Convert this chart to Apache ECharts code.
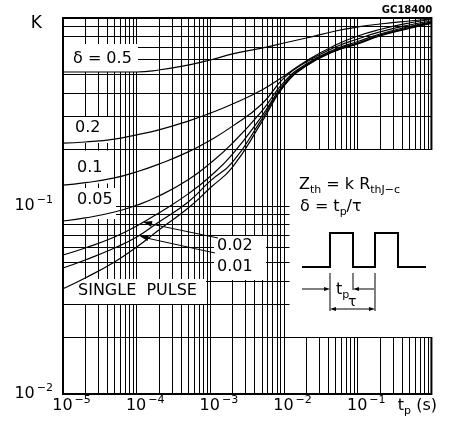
<!DOCTYPE html>
<html>
<head>
<meta charset="utf-8">
<script src="https://cdn.jsdelivr.net/npm/echarts@6/dist/echarts.min.js"></script>
<style>
  html, body { margin: 0; padding: 0; background: #fff; }
  #chart { width: 454px; height: 425px; }
</style>
</head>
<body>
<div id="chart"></div>
<script>
  // pulse width tp (s)
  var tp = [1e-5, 2e-5, 5e-5, 1e-4, 2e-4, 5e-4, 1e-3, 2e-3, 5e-3, 1e-2, 2e-2, 5e-2, 0.1, 0.2, 0.5, 1]
  // K = Zth / RthJ-c for each duty cycle
  var kDelta050 = [0.516, 0.516, 0.516, 0.516, 0.529, 0.562, 0.598, 0.644, 0.692, 0.736, 0.783, 0.853, 0.896, 0.929, 0.964, 0.988]
  var kDelta020 = [0.216, 0.219, 0.227, 0.239, 0.254, 0.283, 0.312, 0.349, 0.414, 0.491, 0.591, 0.718, 0.802, 0.869, 0.941, 0.982]
  var kDelta010 = [0.129, 0.133, 0.141, 0.152, 0.167, 0.194, 0.224, 0.266, 0.349, 0.480, 0.583, 0.701, 0.773, 0.843, 0.918, 0.964]
  var kDelta005 = [0.0832, 0.0864, 0.0929, 0.101, 0.113, 0.138, 0.169, 0.216, 0.320, 0.457, 0.569, 0.684, 0.750, 0.822, 0.901, 0.952]
  var kDelta002 = [0.0549, 0.0598, 0.0684, 0.0783, 0.0918, 0.116, 0.144, 0.189, 0.301, 0.446, 0.562, 0.676, 0.736, 0.812, 0.890, 0.947]
  var kDelta001 = [0.0468, 0.0516, 0.0598, 0.0684, 0.0822, 0.105, 0.136, 0.171, 0.290, 0.440, 0.559, 0.672, 0.732, 0.807, 0.885, 0.941]
  var kSingle = [0.0363, 0.0414, 0.0504, 0.0605, 0.0745, 0.0976, 0.125, 0.161, 0.280, 0.435, 0.555, 0.668, 0.727, 0.802, 0.879, 0.935]

  // minor grid: mantissas 2..9 in every decade
  var gridMantissas = [2, 3, 4, 5, 6, 7, 8, 9]
  var xDecades = [1e-5, 1e-4, 1e-3, 1e-2, 1e-1]
  var yDecades = [0.01, 0.1]

  var FONT = 'DejaVu Sans'
  var chart = echarts.init(document.getElementById('chart'))

  function pairs (ys) {
    return tp.map(function (x, i) { return [x, ys[i]] })
  }

  var gridMarks = []
  xDecades.forEach(function (d) {
    gridMantissas.forEach(function (m) { gridMarks.push({xAxis: m * d}) })
  })
  yDecades.forEach(function (d) {
    gridMantissas.forEach(function (m) { gridMarks.push({yAxis: m * d}) })
  })

  function curve (name, ys) {
    return {
      name: name,
      type: 'line',
      data: pairs(ys),
      smooth: 0.5,
      symbol: 'none',
      z: 10,
      lineStyle: {color: '#000', width: 1.2}
    }
  }

  function arrowHead (tip, tail, len, half) {
    var dx = tip[0] - tail[0]
    var dy = tip[1] - tail[1]
    var l = Math.sqrt(dx * dx + dy * dy)
    var ux = dx / l
    var uy = dy / l
    var bx = tip[0] - ux * len
    var by = tip[1] - uy * len
    return {
      type: 'polygon',
      z: 20,
      silent: true,
      shape: {points: [tip, [bx - uy * half, by + ux * half], [bx + uy * half, by - ux * half]]},
      style: {fill: '#000'}
    }
  }

  function seg (x1, y1, x2, y2, w) {
    return {type: 'line', z: 20, silent: true, shape: {x1: x1, y1: y1, x2: x2, y2: y2}, style: {stroke: '#000', lineWidth: w || 1}}
  }

  function box (x, y, w, h) {
    return {type: 'rect', z: 5, silent: true, shape: {x: x, y: y, width: w, height: h}, style: {fill: '#fff'}}
  }

  function label (x, y, text, size, rich) {
    return {
      type: 'text', z: 20, silent: true, x: x, y: y,
      style: {text: text, fontFamily: FONT, fontSize: size || 16, fill: '#000', align: 'left', verticalAlign: 'middle', rich: rich}
    }
  }

  var subRich = {
    n: {fontFamily: FONT, fontSize: 16, lineHeight: 22, verticalAlign: 'middle'},
    sub: {fontFamily: FONT, fontSize: 11, verticalAlign: 'bottom'}
  }

  var option = {
    animation: false,
    grid: {left: 63, top: 18, width: 376, height: 376, show: true, borderColor: '#000', borderWidth: 2, backgroundColor: '#fff'},
    xAxis: {
      type: 'log',
      logBase: 10,
      min: 1e-5,
      max: 1,
      axisLine: {show: false},
      axisTick: {show: false},
      splitLine: {show: true, lineStyle: {color: '#000', width: 1}},
      axisLabel: {
        margin: 1,
        showMinLabel: true,
        showMaxLabel: true,
        color: '#000',
        formatter: function (v) {
          var e = Math.round(Math.log10(v))
          if (e === 0) return '{t|t}{p|p}{t| (s)}{gap2|}'
          return '{gap|}{b|10}{s|−' + (-e) + '}'
        },
        rich: {
          b: {fontFamily: FONT, fontSize: 16, lineHeight: 22, verticalAlign: 'middle'},
          s: {fontFamily: FONT, fontSize: 11, verticalAlign: 'top', padding: [0, 0, 0, 2]},
          gap: {width: 17},
          gap2: {width: 28},
          t: {fontFamily: FONT, fontSize: 16, lineHeight: 22, verticalAlign: 'middle'},
          p: {fontFamily: FONT, fontSize: 11, verticalAlign: 'bottom'}
        }
      }
    },
    yAxis: {
      type: 'log',
      logBase: 10,
      min: 0.01,
      max: 1,
      axisLine: {show: false},
      axisTick: {show: false},
      splitLine: {show: true, lineStyle: {color: '#000', width: 1}},
      axisLabel: {
        margin: 10,
        showMinLabel: true,
        showMaxLabel: true,
        color: '#000',
        formatter: function (v) {
          var e = Math.round(Math.log10(v))
          if (e === 0) return '{k|K}'
          return '{b|10}{s|−' + (-e) + '}'
        },
        rich: {
          b: {fontFamily: FONT, fontSize: 16, lineHeight: 22, verticalAlign: 'middle'},
          s: {fontFamily: FONT, fontSize: 11, verticalAlign: 'top', padding: [0, 0, 0, 2]},
          k: {fontFamily: FONT, fontSize: 17, padding: [12, 11, 0, 0]}
        }
      }
    },
    series: [
      {
        name: 'grid',
        type: 'line',
        data: [],
        z: 1,
        silent: true,
        markLine: {
          silent: true,
          z: 1,
          precision: 10,
          symbol: ['none', 'none'],
          label: {show: false},
          emphasis: {disabled: true},
          lineStyle: {color: '#000', width: 1, type: 'solid'},
          data: gridMarks
        }
      },
      curve('0.5', kDelta050),
      curve('0.2', kDelta020),
      curve('0.1', kDelta010),
      curve('0.05', kDelta005),
      curve('0.02', kDelta002),
      curve('0.01', kDelta001),
      curve('single pulse', kSingle)
    ],
    graphic: {
      elements: [
        // white patches behind the in-plot labels
        box(64, 44, 74, 28),
        box(64, 117, 44, 26),
        box(64, 150.5, 44, 33),
        box(64, 188, 52, 31),
        box(64, 279, 142, 25),
        box(214, 236, 52, 44),
        box(289.5, 150, 148.5, 187),
        label(73, 59, 'δ = 0.5'),
        label(75, 128, '0.2'),
        label(77, 168, '0.1'),
        label(77, 200, '0.05'),
        label(78, 291, 'SINGLE  PULSE'),
        label(217, 246, '0.02'),
        label(217, 267, '0.01'),
        seg(218, 238, 150, 223.8),
        arrowHead([143, 222], [218, 238], 9, 3),
        seg(215, 253, 146.5, 238),
        arrowHead([139.5, 236], [215, 253], 9, 3),
        // inset text
        label(299, 185, '{n|Z}{sub|th}{n| = k R}{sub|thJ−c}', 16, subRich),
        label(300, 207, '{n|δ = t}{sub|p}{n|/τ}', 16, subRich),
        // pulse train
        {
          type: 'polyline', z: 20, silent: true,
          shape: {points: [[302, 267], [330, 267], [330, 233], [353, 233], [353, 267], [375, 267], [375, 233], [398, 233], [398, 267], [426, 267]]},
          style: {stroke: '#000', lineWidth: 2, fill: null}
        },
        seg(330, 273, 330, 311),
        seg(353, 273, 353, 290),
        seg(375, 273, 375, 311),
        seg(302, 289, 325, 289),
        arrowHead([330, 289], [302, 289], 6, 2),
        seg(374, 289, 358, 289),
        arrowHead([353, 289], [374, 289], 6, 2),
        seg(334, 309, 371, 309),
        arrowHead([330, 309], [352, 309], 6, 2),
        arrowHead([375, 309], [352, 309], 6, 2),
        label(336, 290, '{n|t}{sub|p}', 16, subRich),
        label(348, 302, 'τ', 14),
        {
          type: 'text', z: 20, silent: true, x: 407, y: 10,
          style: {text: 'GC18400', fontFamily: FONT, fontSize: 10, fontWeight: 'bold', fill: '#000', align: 'center', verticalAlign: 'middle'}
        }
      ]
    }
  }

  chart.setOption(option)
</script>
</body>
</html>
